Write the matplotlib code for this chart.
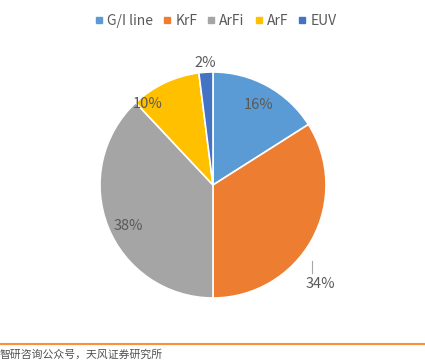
import matplotlib
matplotlib.use('Agg')
import matplotlib.pyplot as plt
from matplotlib.lines import Line2D

labels = ['G/I line', 'KrF', 'ArFi', 'ArF', 'EUV']
shares = [16, 34, 38, 10, 2]
colors = ['#5B9BD5', '#ED7D31', '#A5A5A5', '#FFC000', '#4472C4']
source = '智研咨询公众号，天风证券研究所'

plt.rcParams['font.family'] = ['Noto Sans CJK SC', 'DejaVu Sans']

fig = plt.figure(figsize=(4.25, 3.62), dpi=100)
# pie area in pixels: x 100..326, y 72..298
ax = fig.add_axes([100/425, (362-298)/362, 226/425, 226/362])
wedges, _ = ax.pie(shares, colors=colors, startangle=90, counterclock=False,
                   radius=1, wedgeprops=dict(edgecolor='white', linewidth=1.2))
ax.set_xlim(-1, 1)
ax.set_ylim(-1, 1)
ax.set_aspect('equal')
ax.axis('off')

# percentage labels (positions in pie units)
label_pos = [(0.40, 0.71), (0.95, -0.88), (-0.75, -0.36), (-0.58, 0.72), (-0.07, 1.08)]
for s, (x, y) in zip(shares, label_pos):
    ax.text(x, y, '{}%'.format(s), ha='center', va='center', fontsize=10.5,
            color='#595959', clip_on=False)
# leader line for 34%
ax.plot([0.88, 0.88], [-0.67, -0.78], color='#A6A6A6', lw=0.8, clip_on=False)

handles = [Line2D([], [], marker='s', ls='', color=c, markersize=4.5) for c in colors]
fig.legend(handles, labels, loc='center', bbox_to_anchor=(0.508, 1 - 21/362),
           ncol=5, frameon=False, fontsize=10, handlelength=0.5, handletextpad=0.35,
           columnspacing=0.75, labelcolor='#595959')

fig.add_artist(Line2D([0, 1], [1 - 344/362] * 2, color='#F7923A', lw=1.5))
fig.text(0.0, 1 - 355/362, source, ha='left', va='center', fontsize=7.8, color='#505050')

plt.savefig('out.png', dpi=100)
